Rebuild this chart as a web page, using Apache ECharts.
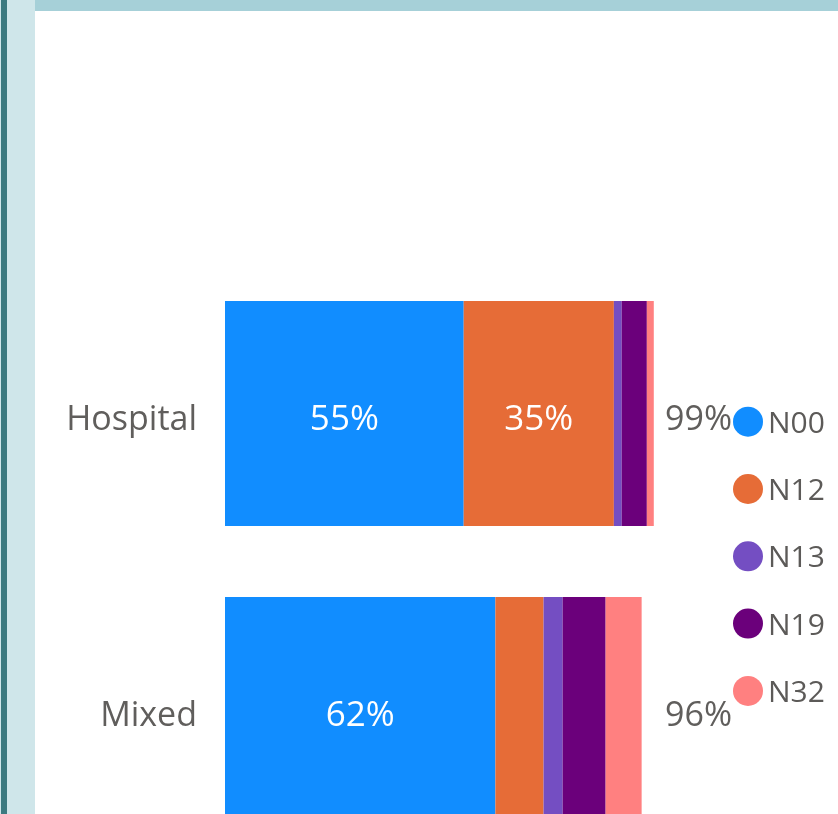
<!DOCTYPE html>
<html>
<head>
<meta charset="utf-8">
<script src="https://cdn.jsdelivr.net/npm/echarts@6/dist/echarts.min.js"></script>
<style>
html,body{margin:0;padding:0;background:#fff;}
#chart{width:838px;height:814px;}
</style>
</head>
<body>
<div id="chart"></div>
<script>
const categories = ['Hospital', 'Mixed'];
const seriesNames = ['N00', 'N12', 'N13', 'N19', 'N32'];
const N00 = [55.0, 62.3];
const N12 = [34.6, 11.1];
const N13 = [1.8, 4.4];
const N19 = [5.8, 9.9];
const N32 = [1.6, 8.3];
const colors = ['#118DFF', '#E66C37', '#744EC2', '#6B007B', '#FF8080'];

const values = [N00, N12, N13, N19, N32];
const totals = categories.map((c, i) => values.reduce((s, arr) => s + arr[i], 0));
const totalLabels = totals.map(t => Math.round(t) + '%');

const FONT = '"Open Sans", "Noto Sans", sans-serif';
const chart = echarts.init(document.getElementById('chart'));

const series = seriesNames.map((name, k) => ({
  name: name,
  type: 'bar',
  stack: 'total',
  barCategoryGap: '24%',
  itemStyle: { color: colors[k] },
  emphasis: { disabled: true },
  label: {
    show: true,
    position: 'inside',
    offset: [0, 7],
    color: '#ffffff',
    fontFamily: FONT,
    fontSize: 35,
    formatter: p => (p.value >= 20 ? Math.round(p.value) + '%' : '')
  },
  data: values[k]
}));

const axisRich = { a: { fontFamily: FONT, fontSize: 34, color: '#605E5C', padding: [14, 0, 0, 0] } };

chart.setOption({
  animation: false,
  backgroundColor: '#ffffff',
  color: colors,
  graphic: [
    { type: 'rect', shape: { x: 0, y: 0, width: 35, height: 814 }, style: { fill: '#CFE6EA' }, z: 100 },
    { type: 'rect', shape: { x: 1, y: 0, width: 6, height: 814 }, style: { fill: '#3C7A80' }, z: 101 },
    { type: 'rect', shape: { x: 35, y: 0, width: 803, height: 11 }, style: { fill: '#A6D0D8' }, z: 100 }
  ],
  legend: {
    orient: 'vertical',
    left: 733,
    top: 406.7,
    padding: 0,
    icon: 'circle',
    itemWidth: 30,
    itemHeight: 30,
    itemGap: 34.8,
    selectedMode: false,
    formatter: '{a|{name}}',
    textStyle: {
      fontFamily: FONT, fontSize: 30, color: '#5C5A58',
      rich: { a: { fontFamily: FONT, fontSize: 30, color: '#5C5A58', padding: [5, 0, 0, 0] } }
    },
    data: seriesNames
  },
  grid: { left: 225, width: 434, top: 265.5, height: 592, containLabel: false, outerBoundsMode: 'none' },
  xAxis: {
    type: 'value',
    min: 0,
    max: 100,
    show: false
  },
  yAxis: [
    {
      type: 'category',
      data: categories,
      inverse: true,
      axisLine: { show: false },
      axisTick: { show: false },
      axisLabel: { margin: 28, formatter: v => '{a|' + v + '}', rich: axisRich }
    },
    {
      type: 'category',
      data: totalLabels,
      inverse: true,
      position: 'right',
      axisLine: { show: false },
      axisTick: { show: false },
      axisLabel: { margin: 6, formatter: v => '{a|' + v + '}', rich: axisRich }
    }
  ],
  series: series
});
</script>
</body>
</html>
